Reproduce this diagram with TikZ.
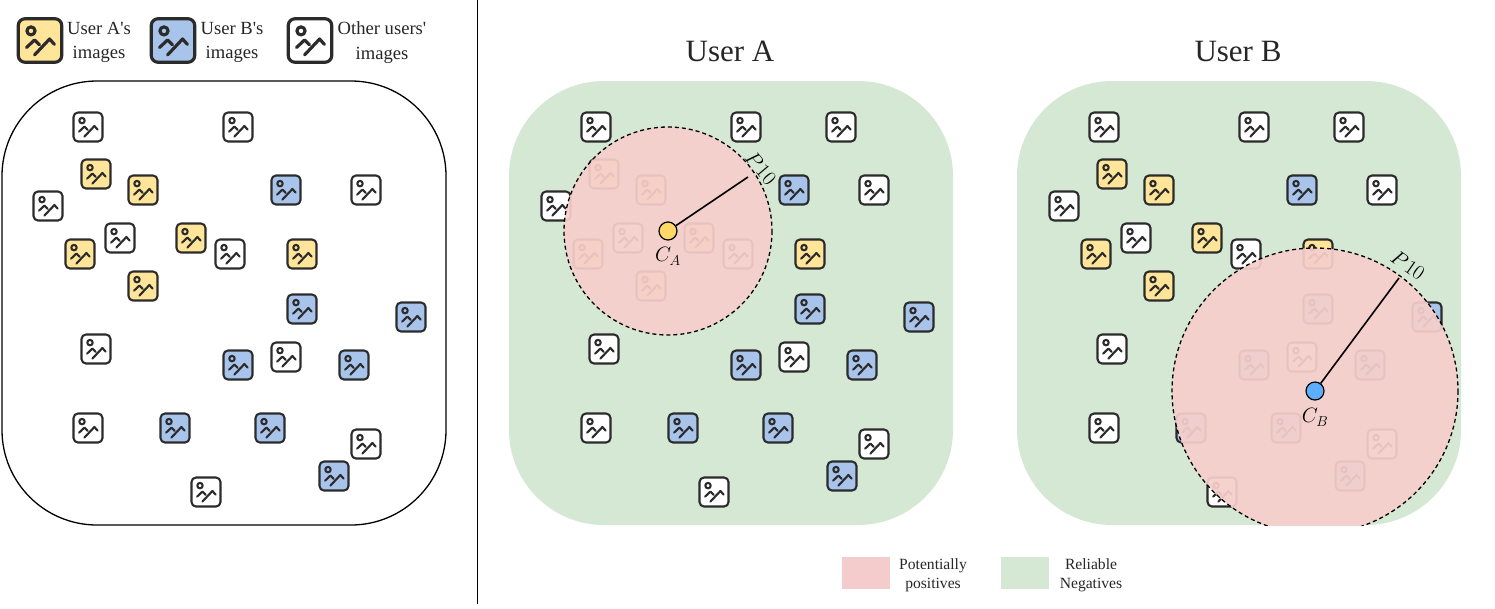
\documentclass[tikz,border=0pt]{standalone}
\usepackage[no-math]{fontspec}
\setmainfont{Liberation Serif}
\usetikzlibrary{positioning}

\definecolor{imgYellow}{HTML}{FFE599}
\definecolor{imgBlue}{HTML}{A9C4EB}
\definecolor{imgLine}{HTML}{2B2B2B}
\definecolor{posPink}{HTML}{F4CCCC}
\definecolor{circlePink}{HTML}{F6CFCB}
\definecolor{negGreen}{HTML}{D5E8D4}
\definecolor{centerYellow}{HTML}{FFD966}
\definecolor{centerBlue}{HTML}{5EAEFF}

% ---------- Image positions, all in the frame of the left panel ----------
\def\whiteImgs{88/127,238/127,48/206,120/238,230/254,366/190,96/349,286/357,88/428,366/444,206/492}
\def\yellowImgs{96/174,143/190,191/238,80/254,302/254,143/286}
\def\blueImgs{286/190,302/309,411/317,238/365,354/365,175/428,270/428,334/476}

\begin{document}
\begin{tikzpicture}[
    x=1pt,y=-1pt,
    lbl/.style     ={font=\fontsize{18.6}{24.5}\selectfont,align=center,inner sep=0pt,text=black!85},
    smalllbl/.style={font=\fontsize{15.6}{19}\selectfont,align=center,inner sep=0pt,text=black!85},
    title/.style   ={font=\fontsize{31}{34}\selectfont,inner sep=0pt,text=black!85},
    panel/.style   ={rounded corners=95pt},
    radial/.style  ={draw=black,line width=1.6pt},
    dashcircle/.style={draw=black,line width=1.3pt,dash pattern=on 4pt off 3pt,fill=circlePink,fill opacity=.93},
    centerdot/.style={circle,draw=black,line width=1.2pt,minimum size=18pt,inner sep=0pt},
    mathlbl/.style ={font=\fontsize{20.74}{24}\selectfont,inner sep=0pt},
]

\tikzset{
  pics/photo/.style 2 args={
    code={
      \begin{scope}[scale=#2,line cap=round,line join=round,draw=imgLine,line width=#2*2.1pt]
        \draw[fill=#1,rounded corners=#2*4.5pt] (-14.5,-14.5) rectangle (14.5,14.5);
        \draw (-6,-6.4) circle (2.7);
        \draw (-9,4.7) -- (-3.6,-0.4) -- (-0.4,2.8);
        \draw (-3.6,9.6) -- (6.4,-1) -- (9.6,2.6);
      \end{scope}
    }
  }
}

% common image cloud of one panel
\newcommand{\placeImgs}{%
  \foreach \ix/\iy in \whiteImgs  {\pic at (\ix,\iy) {photo={white}{1}};}
  \foreach \ix/\iy in \yellowImgs {\pic at (\ix,\iy) {photo={imgYellow}{1}};}
  \foreach \ix/\iy in \blueImgs   {\pic at (\ix,\iy) {photo={imgBlue}{1}};}
}

\useasboundingbox (0,0) rectangle (1495,608);

% ---------- Legend of image owners ----------
\pic at (40,40.5) {photo={imgYellow}{1.5}};
\node[lbl] (legA) at (99,42.5) {User A\textquotesingle s\\images};
\pic at (173,40.5) {photo={imgBlue}{1.5}};
\node[lbl] (legB) at (232,42.5) {User B\textquotesingle s\\images};
\pic at (310,40.5) {photo={white}{1.5}};
\node[lbl] (legO) at (382,42.5) {Other users\textquotesingle\\images};

% ---------- Left: all images ----------
\draw[panel,line width=1.3pt] (2,81) rectangle (446,525);
\placeImgs

% separator
\draw[line width=1pt] (477.5,0) -- (477.5,604);

% ---------- Middle: User A ----------
\node[title] (titleA) at (730,51) {User A};
\begin{scope}[xshift=508pt]
  \fill[panel,negGreen] (1,81) rectangle (445,525);
  \placeImgs
  \pic at (333,127) {photo={white}{1}};
\end{scope}
\draw[dashcircle] (668,231) circle (104);
\coordinate (rimA) at (748,177);
\node[centerdot,fill=centerYellow] (CA) at (668,231) {};
\draw[radial] (CA) -- (rimA);
\node[mathlbl,rotate=-50] (pA) at (761,168) {$P\mkern1mu 10$};
\node[mathlbl,below=7pt of CA] (labA) {$C_A$};

% ---------- Right: User B ----------
\node[title] (titleB) at (1238,51) {User B};
\begin{scope}[xshift=1016pt]
  \fill[panel,negGreen] (1,81) rectangle (445,525);
  \placeImgs
  \pic at (333,127) {photo={white}{1}};
\end{scope}
\begin{scope}
  \clip (1000,81) rectangle (1470,525);
  \draw[dashcircle] (1315,391) circle (143);
\end{scope}
\coordinate (rimB) at (1399,278);
\node[centerdot,fill=centerBlue] (CB) at (1315,391) {};
\draw[radial] (CB) -- (rimB);
\node[mathlbl,rotate=-35] (pB) at (1408,265) {$P\mkern1mu 10$};
\node[mathlbl,below=8pt of CB] (labB) {$C_B$};

% ---------- Legend of regions ----------
\fill[posPink] (842,557) rectangle (890,589);
\node[smalllbl] (legPos) at (933,575) {Potentially\\positives};
\fill[negGreen] (1001,557) rectangle (1049,589);
\node[smalllbl] (legNeg) at (1091,575) {Reliable\\Negatives};

\end{tikzpicture}
\end{document}
